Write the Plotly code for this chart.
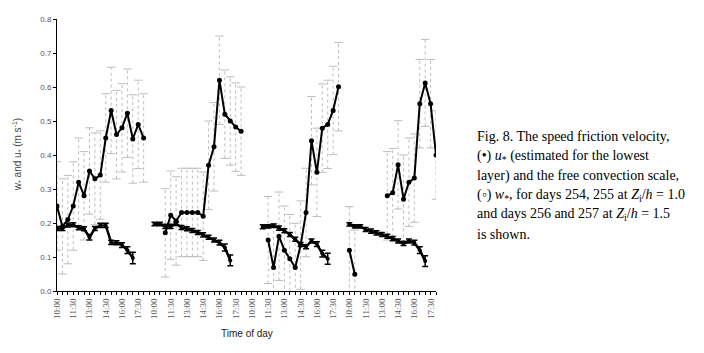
import plotly.graph_objects as go

# ---- data ----
slots = ["10:00", "10:30", "11:00", "11:30", "12:00", "12:30", "13:00", "13:30", "14:00",
         "14:30", "15:00", "15:30", "16:00", "16:30", "17:00", "17:30", "18:00", "18:30"]
days = [254, 255, 256, 257]
label_slots = ["10:00", "11:30", "13:00", "14:30", "16:00", "17:30"]

N = None
ustar_254 = [0.25, 0.19, 0.21, 0.25, 0.32, 0.28, 0.353, 0.33, 0.341, 0.45, 0.531, 0.46, 0.48, 0.523, 0.447, 0.49, 0.45, N]
ustar_255 = [N, N, 0.171, 0.223, 0.206, 0.231, 0.231, 0.231, 0.231, 0.22, 0.37, 0.424, 0.62, 0.52, 0.50, 0.482, 0.47, N]
ustar_256 = [N, N, N, 0.15, 0.069, 0.161, 0.12, 0.095, 0.069, 0.135, 0.231, 0.442, 0.349, 0.479, 0.49, 0.531, 0.601, N]
ustar_257 = [0.12, 0.049, N, N, N, N, N, 0.28, 0.289, 0.371, 0.27, 0.32, 0.332, 0.551, 0.612, 0.551, 0.40]

ustar_err_254 = [0.13, 0.14, 0.13, 0.13, 0.13, 0.13, 0.127, 0.135, 0.13, 0.13, 0.127, 0.13, 0.13, 0.13, 0.13, 0.13, 0.13, N]
ustar_err_255 = [N, N, 0.13, 0.13, 0.13, 0.13, 0.13, 0.13, 0.13, 0.13, 0.13, 0.13, 0.13, 0.13, 0.13, 0.13, 0.13, N]
ustar_err_256 = [N, N, N, 0.128, 0.13, 0.13, 0.13, 0.13, 0.13, 0.13, 0.13, 0.13, 0.13, 0.13, 0.13, 0.13, 0.13, N]
ustar_err_257 = [0.128, 0.13, N, N, N, N, N, 0.13, 0.13, 0.13, 0.13, 0.13, 0.13, 0.13, 0.128, 0.13, 0.13]

wstar_254 = [0.184, 0.184, 0.194, 0.195, 0.186, 0.183, 0.158, 0.184, 0.193, 0.193, 0.143, 0.142, 0.135, 0.12, 0.097, N, N, N]
wstar_255 = [0.197, 0.197, 0.19, 0.19, 0.198, 0.187, 0.183, 0.178, 0.172, 0.165, 0.158, 0.15, 0.142, 0.128, 0.09, N, N, N]
wstar_256 = [N, N, 0.189, 0.19, 0.192, 0.185, 0.177, 0.166, 0.152, 0.137, 0.13, 0.147, 0.138, 0.11, 0.095, N, N, N]
wstar_257 = [0.196, 0.19, 0.19, 0.181, 0.176, 0.171, 0.166, 0.161, 0.154, 0.147, 0.14, 0.147, 0.142, 0.12, 0.088, N, N]

wstar_err_254 = [0.006, 0.006, 0.006, 0.006, 0.006, 0.006, 0.008, 0.006, 0.006, 0.006, 0.006, 0.006, 0.007, 0.01, 0.017, N, N, N]
wstar_err_255 = [0.005, 0.005, 0.006, 0.006, 0.005, 0.006, 0.006, 0.006, 0.006, 0.006, 0.006, 0.006, 0.007, 0.01, 0.016, N, N, N]
wstar_err_256 = [N, N, 0.006, 0.005, 0.005, 0.006, 0.006, 0.006, 0.006, 0.006, 0.006, 0.006, 0.007, 0.01, 0.016, N, N, N]
wstar_err_257 = [0.005, 0.005, 0.005, 0.006, 0.006, 0.006, 0.006, 0.006, 0.006, 0.006, 0.006, 0.006, 0.007, 0.01, 0.016, N, N]

ustar_days = [ustar_254, ustar_255, ustar_256, ustar_257]
ustar_errs = [ustar_err_254, ustar_err_255, ustar_err_256, ustar_err_257]
wstar_days = [wstar_254, wstar_255, wstar_256, wstar_257]
wstar_errs = [wstar_err_254, wstar_err_255, wstar_err_256, wstar_err_257]

# ---- build x positions (category index along the concatenated days) ----
def flatten(day_lists):
    xs, ys = [], []
    for d, vals in enumerate(day_lists):
        for s, v in enumerate(vals):
            xs.append(d * len(slots) + s)
            ys.append(v)
    return xs, ys

ux, uy = flatten(ustar_days)
_, ue = flatten(ustar_errs)
wx, wy = flatten(wstar_days)
_, we = flatten(wstar_errs)

n_cat = 3 * len(slots) + len(ustar_257)  # 71 categories
tickvals, ticktext = [], []
for i in range(n_cat):
    s = slots[i % len(slots)]
    if s in label_slots:
        tickvals.append(i)
        ticktext.append(s)

# dotted u* error whiskers built from the data
ebx, eby, capx, capy = [], [], [], []
for x, y, e in zip(ux, uy, ue):
    if y is None or e is None:
        continue
    ebx += [x, x, None]
    eby += [y - e, y + e, None]
    capx += [x, x]
    capy += [y - e, y + e]

# page has an 8px body margin; work in page pixels and convert
OFF = 8
W, H = 704 - OFF, 353 - OFF
L, R, T, B = 57 - OFF, 436 - OFF, 19 - OFF, 290.7 - OFF


def px_x(xp):
    return (xp - OFF - L) / (R - L)


def px_y(yp):
    return 1 - (yp - OFF - T) / (B - T)


GRAY = "#bdbdbd"
fig = go.Figure()
fig.add_trace(go.Scatter(
    x=ebx, y=eby, mode="lines", line=dict(color=GRAY, width=1, dash="dot"),
    hoverinfo="skip", connectgaps=False,
))
fig.add_trace(go.Scatter(
    x=capx, y=capy, mode="markers", hoverinfo="skip",
    marker=dict(symbol="line-ew", size=6, line=dict(color=GRAY, width=1)),
))
fig.add_trace(go.Scatter(
    x=ux, y=uy, mode="lines+markers", name="u*",
    line=dict(color="black", width=2),
    marker=dict(color="black", size=5),
    connectgaps=False,
))
fig.add_trace(go.Scatter(
    x=wx, y=wy, mode="lines+markers", name="w*",
    line=dict(color="black", width=2.5),
    marker=dict(color="black", size=4),
    error_y=dict(type="data", array=[e if e is not None else 0 for e in we],
                 color="black", thickness=1.5, width=3),
    connectgaps=False,
))

caption = [
    "Fig. 8. The speed friction velocity,",
    "(•) <i>u</i><sub>*</sub> (estimated for the lowest",
    "layer) and the free convection scale,",
    "(◦) <i>w</i><sub>*</sub>, for days 254, 255 at <i>Z</i><sub>i</sub>/<i>h</i> = 1.0",
    "and days 256 and 257 at <i>Z</i><sub>i</sub>/<i>h</i> = 1.5",
    "is shown.",
]
caption_y = [136, 156, 175.5, 195, 214.5, 234]
annotations = []
for txt, yy in zip(caption, caption_y):
    annotations.append(dict(
        text=txt, xref="paper", yref="paper",
        x=px_x(475), y=px_y(yy),
        xanchor="left", yanchor="middle", showarrow=False, align="left",
        font=dict(family="Liberation Serif", size=14, color="black"),
    ))
# axis titles placed as annotations at the reference positions
annotations.append(dict(
    text="Time of day", xref="paper", yref="paper",
    x=px_x(247), y=px_y(333), xanchor="center", yanchor="middle",
    showarrow=False, font=dict(family="Liberation Sans Narrow, Liberation Sans", size=10, color="#222222"),
))
annotations.append(dict(
    text="w<sub>*</sub> and u<sub>*</sub> (m s<sup>-1</sup>)", xref="paper", yref="paper",
    x=px_x(17), y=px_y(155), xanchor="center", yanchor="middle",
    textangle=-90, showarrow=False, font=dict(family="Liberation Sans", size=10, color="#444444"),
))

fig.update_layout(
    width=W, height=H,
    margin=dict(l=L, r=W - R, t=T, b=H - B),
    paper_bgcolor="white", plot_bgcolor="white",
    showlegend=False,
    annotations=annotations,
    xaxis=dict(
        range=[0, n_cat - 1], tickmode="array", tickvals=tickvals, ticktext=ticktext,
        tickangle=-90, ticks="outside", ticklen=3, tickcolor="black", automargin=False,
        minor=dict(tickmode="linear", tick0=0, dtick=1, ticks="outside", ticklen=3, tickcolor="black"),
        showline=True, linecolor="black", linewidth=1, showgrid=False, zeroline=False,
        tickfont=dict(family="Liberation Serif", size=9, color="#555555"),
    ),
    yaxis=dict(
        range=[0, 0.8], dtick=0.1, tickformat=".1f", automargin=False,
        ticks="outside", ticklen=3, tickcolor="black",
        showline=True, linecolor="black", linewidth=1, showgrid=False, zeroline=False,
        tickfont=dict(family="Liberation Sans", size=8, color="#555555"),
    ),
)

fig.write_html("out.html")
